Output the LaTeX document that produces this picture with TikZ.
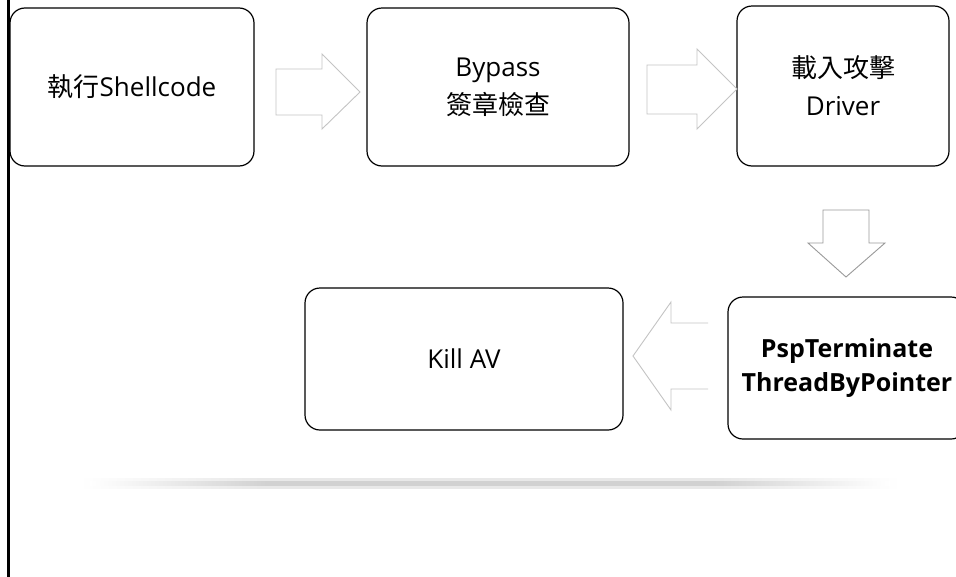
\documentclass[tikz,border=0pt]{standalone}
\usepackage{fontspec}
\setmainfont{Open Sans}
\newfontfamily\cjk{Noto Sans CJK TC}
\definecolor{lightarrow}{HTML}{C4C4C4}
\definecolor{darkarrow}{HTML}{9A9A9A}
\pgfdeclarehorizontalshading{glowline}{100bp}{color(0bp)=(white); color(25bp)=(white); color(30bp)=(black!8); color(36bp)=(black!18); color(64bp)=(black!18); color(70bp)=(black!8); color(75bp)=(white); color(100bp)=(white)}
\pgfdeclarehorizontalshading{glowwide}{100bp}{color(0bp)=(white); color(25bp)=(white); color(30bp)=(black!4); color(36bp)=(black!9); color(64bp)=(black!9); color(70bp)=(black!4); color(75bp)=(white); color(100bp)=(white)}
\begin{document}
\begin{tikzpicture}[x=1pt,y=-1pt,
  box/.style={draw=black, line width=1.2pt, rounded corners=15pt, inner sep=0pt, outer sep=0pt, align=center, font=\fontsize{26}{38}\selectfont},
  boldbox/.style={box, font=\fontsize{25}{34}\selectfont\bfseries},
  lightblock/.style={draw=lightarrow, line width=0.9pt, line join=miter},
  darkblock/.style={draw=darkarrow, line width=0.9pt, line join=miter}]
\useasboundingbox (0,0) rectangle (956,576);
\clip (0,0) rectangle (956,576);
\fill[white] (0,0) rectangle (956,576);

% boxes
\node[box, minimum width=244pt, minimum height=158pt] (b1) at (132,87) {{\cjk 執行}Shellcode};
\node[box, minimum width=262pt, minimum height=158pt] (b2) at (498,87) {Bypass\\{\cjk 簽章檢查}};
\node[box, minimum width=212pt, minimum height=160pt] (b3) at (843,86) {{\cjk 載入攻擊}\\Driver};
\node[boldbox, minimum width=238pt, minimum height=142pt] (b4) at (847,368) {PspTerminate\\ThreadByPointer};
\node[box, minimum width=318pt, minimum height=142pt] (b5) at (464,359) {Kill AV};

% block arrows
\draw[lightblock] (276,69) -- (322,69) -- (322,54) -- (360,92) -- (322,129) -- (322,115) -- (276,115) -- cycle;
\draw[lightblock] (647,65) -- (697,65) -- (697,49) -- (737,89) -- (697,129) -- (697,114) -- (647,114) -- cycle;
\draw[darkblock] (823,210) -- (869,210) -- (869,243) -- (885,243) -- (846,277) -- (808,243) -- (823,243) -- cycle;
\draw[lightblock] (708,323) -- (671,323) -- (671,302) -- (633,356) -- (671,410) -- (671,389) -- (708,389);

% shadow line
\shade[shading=glowwide] (80,478.5) rectangle (900,488.5);
\shade[shading=glowline] (90,481.5) rectangle (890,485.5);

% left border
\draw[black, line width=2.5pt] (8.5,-2) -- (8.5,580);
\end{tikzpicture}
\end{document}
